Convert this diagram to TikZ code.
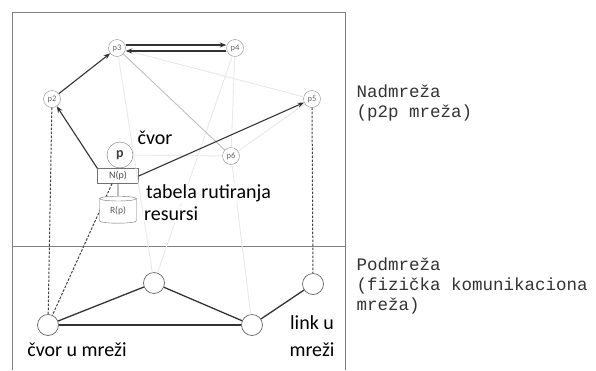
\documentclass[tikz,border=0pt]{standalone}
\usepackage{fontspec}
\setsansfont{Carlito}
\setmonofont{Liberation Mono}
\usetikzlibrary{arrows.meta,shapes.geometric}

\begin{document}
\begin{tikzpicture}[x=1pt,y=-1pt,
  font=\sffamily,
  peer/.style={circle,draw=black!45,fill=white,minimum size=17pt,inner sep=0pt,
               font=\sffamily\fontsize{8.5}{9}\selectfont,text=black!60},
  host/.style={circle,draw=black!60,fill=white,minimum size=21pt,inner sep=0pt,line width=0.7pt},
  lbl/.style={font=\sffamily\fontsize{20}{22}\selectfont,fill=white,inner sep=1pt},
  side/.style={font=\ttfamily\fontsize{17.5}{20}\selectfont,text=black!80,anchor=west,align=left},
  frm/.style={draw=black!50,line width=0.8pt},
  fl/.style={-{Stealth[length=6.5pt,width=5pt]},line width=1.1pt,draw=black!80},
  link/.style={line width=1.3pt,draw=black!80},
  ghost/.style={line width=0.9pt,draw=blue!6!black!9},
  map/.style={dash pattern=on 2.5pt off 1.5pt,line width=1pt,draw=black!75}
]
\useasboundingbox (0,0) rectangle (596,370);

% frame and layer divider
\draw[frm] (12,370) -- (12,12) -- (345,12) -- (345,370);
\draw[frm] (12,246) -- (345,246);

% overlay peers
\node[peer] (p2) at (52,99)  {p2};
\node[peer] (p3) at (117,48) {p3};
\node[peer] (p4) at (235,48) {p4};
\node[peer] (p5) at (312,99) {p5};
\node[peer] (p6) at (231,156) {p6};
\node[circle,draw=black!55,fill=white,minimum size=26pt,inner sep=0pt,
      font=\sffamily\bfseries\fontsize{14}{15}\selectfont,text=black!75] (p) at (120,155) {p};
\node[draw=black!55,fill=white,minimum width=41pt,minimum height=15pt,inner sep=0pt,
      font=\sffamily\fontsize{10}{11}\selectfont,text=black!70] (np) at (118,176) {N(p)};

% underlay hosts
\node[host] (a) at (48,325)  {};
\node[host] (b) at (154,283) {};
\node[host] (c) at (252,325) {};
\node[host] (d) at (313,284) {};

% faint overlay links
\foreach \u/\v in {p3/p5,p3/b,p4/b,p4/p6,p6/c,p6/p5,p/p6} \draw[ghost] (\u) -- (\v);
\draw[ghost,draw=black!25] (p3) -- (p6);

% routing
\draw[fl] (p2) -- (p3);
\draw[fl] ([yshift=3pt]p3.east) -- ([yshift=3pt]p4.west);
\draw[fl] ([yshift=-3pt]p4.west) -- ([yshift=-3pt]p3.east);
\draw[fl] (np.north west) -- (p2);
\draw[fl] (np.east) -- (p5);

% peer to host mapping
\draw[map] (p2) -- (a);
\draw[map] ([xshift=-6pt]np.south) -- (a);
\draw[map] (p5) -- (d);

% resource store
\node[cylinder,shape border rotate=90,aspect=0.3,draw=black!55,fill=white,
      minimum width=37pt,minimum height=27pt,inner sep=0pt,
      font=\sffamily\fontsize{9.5}{10}\selectfont,text=black!65] (rp) at (118,211) {R(p)};
\draw[draw=black!70,line width=0.8pt] (np) -- (rp);

% physical links
\foreach \u/\v in {a/b,b/c,a/c,c/d} \draw[link] (\u) -- (\v);

% labels
\node[lbl] (tcvor) at (155,138) {čvor};
\node[lbl,anchor=west] (ttab) at (145,193) {tabela rutiranja};
\node[lbl,anchor=west] (tres) at (143,214) {resursi};
\node[lbl] (thost) at (77,350) {čvor u mreži};
\node[lbl] (tlink) at (312,323) {link u};
\node[lbl] (tlink2) at (312,350) {mreži};

\node[side] (over) at (353,103) {Nadmreža\\(p2p mreža)};
\node[side] (under) at (353,286) {Podmreža\\(fizička komunikaciona\\mreža)};

\end{tikzpicture}
\end{document}
